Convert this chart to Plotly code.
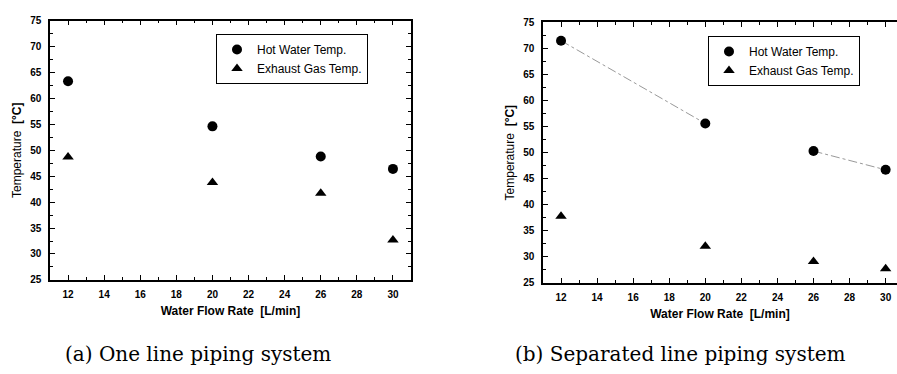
import plotly.graph_objects as go

flow = [12, 20, 26, 30]
hot_a = [63.3, 54.6, 48.8, 46.4]
gas_a = [48.7, 43.8, 41.7, 32.7]
hot_b = [71.5, 55.6, 50.3, 46.7]
gas_b = [37.8, 32.0, 29.1, 27.7]
# visible dash-dot guide in panel (b): segments 12-20 and 26-30
guide_x_b = [12, 20, None, 26, 30]
guide_y_b = [71.5, 55.6, None, 50.3, 46.7]

xticks = [12, 14, 16, 18, 20, 22, 24, 26, 28, 30]
yticks = [25, 30, 35, 40, 45, 50, 55, 60, 65, 70, 75]

W, H = 897, 374
fig = go.Figure()

mk = dict(color="black", size=10)
fig.add_trace(go.Scatter(x=flow, y=hot_a, mode="markers", name="Hot Water Temp.",
                         marker=dict(symbol="circle", **mk), xaxis="x", yaxis="y", legend="legend"))
fig.add_trace(go.Scatter(x=flow, y=gas_a, mode="markers", name="Exhaust Gas Temp.",
                         marker=dict(symbol="triangle-up", **mk), xaxis="x", yaxis="y", legend="legend"))
fig.add_trace(go.Scatter(x=guide_x_b, y=guide_y_b, mode="lines", showlegend=False,
                         line=dict(color="#999", width=1, dash="dashdot"),
                         connectgaps=False, xaxis="x2", yaxis="y2"))
fig.add_trace(go.Scatter(x=flow, y=hot_b, mode="markers", name="Hot Water Temp.",
                         marker=dict(symbol="circle", **mk), xaxis="x2", yaxis="y2", legend="legend2"))
fig.add_trace(go.Scatter(x=flow, y=gas_b, mode="markers", name="Exhaust Gas Temp.",
                         marker=dict(symbol="triangle-up", **mk), xaxis="x2", yaxis="y2", legend="legend2"))

tickfont = dict(family="Arial", size=10, color="black", weight="bold")
titlefont = dict(family="Arial", size=12, color="black")

def xax(domain, rng, mirror, anchor):
    return dict(domain=domain, range=rng, tickvals=xticks, ticks="inside", ticklen=5,
                tickcolor="black", showline=True, linecolor="black", linewidth=1.5,
                mirror=mirror, showgrid=False, zeroline=False, tickfont=tickfont,
                ticklabelstandoff=4,
                minor=dict(dtick=1, ticks="inside", ticklen=3, tickcolor="black"),
                title=dict(text="<b>Water Flow Rate  [L/min]</b>", font=titlefont, standoff=8),
                anchor=anchor)

def yax(domain, mirror, anchor):
    return dict(domain=domain, range=[25, 75], tickvals=yticks, ticks="inside", ticklen=5,
                tickcolor="black", showline=True, linecolor="black", linewidth=1.5,
                mirror=mirror, showgrid=False, zeroline=False, tickfont=tickfont,
                ticklabelstandoff=5,
                minor=dict(dtick=2.5, ticks="inside", ticklen=3, tickcolor="black"),
                title=dict(text="Temperature  <b>[°C]</b>", font=titlefont, standoff=6),
                anchor=anchor)

yd_a = [(H - 283) / H, (H - 15) / H]
yd_b = [(H - 286) / H, (H - 17) / H]

legstyle = dict(bordercolor="black", borderwidth=1, bgcolor="white",
                font=dict(family="Arial", size=12, color="black"),
                xanchor="left", yanchor="top", tracegroupgap=0, itemwidth=30)

capfont = dict(family="DejaVu Serif", size=20, color="black")

fig.update_layout(
    width=W, height=H, margin=dict(l=0, r=0, t=0, b=0),
    paper_bgcolor="white", plot_bgcolor="white",
    xaxis=xax([50 / W, 411 / W], [11, 31], "allticks", "y"),
    yaxis=yax(yd_a, "allticks", "x"),
    xaxis2=xax([543 / W, 1.0], [11, 30.63], "allticks", "y2"),
    yaxis2=yax(yd_b, False, "x2"),
    legend=dict(x=216 / W, y=1 - 29 / H, **legstyle),
    legend2=dict(x=708 / W, y=1 - 31 / H, **legstyle),
    annotations=[
        dict(text="(a) One line piping system", x=63 / W, y=1 - 360 / H, xref="paper", yref="paper",
             xanchor="left", yanchor="middle", showarrow=False, font=capfont),
        dict(text="(b) Separated line piping system", x=513 / W, y=1 - 360 / H, xref="paper", yref="paper",
             xanchor="left", yanchor="middle", showarrow=False, font=capfont),
    ],
)

fig.write_html("out.html", config={"displayModeBar": False},
               post_script="document.body.style.margin='0';document.body.style.overflow='hidden';")
